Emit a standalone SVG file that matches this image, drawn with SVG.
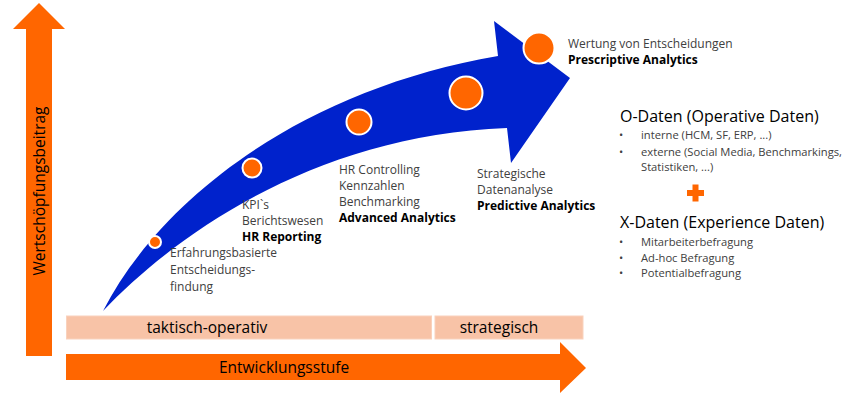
<svg xmlns="http://www.w3.org/2000/svg" width="860" height="397" viewBox="0 0 860 397">
<style>
  .t { font-family: "Open Sans", "Noto Sans", sans-serif; }
  .g { font-size: 12px; fill: #404040; }
  .s { font-size: 11.2px; fill: #404040; }
  .b { font-size: 12px; font-weight: bold; fill: #000; }
  .h { font-size: 16px; fill: #000; }
  .bar { fill: #F8C3A7; stroke: #F9D2BD; stroke-width: 1; }
  .or { fill: #FF6600; }
  .dot { fill: #FF6600; stroke: #fff; stroke-width: 2; }
  .lbl { font-size: 15.5px; fill: #000; }
</style>
<rect width="860" height="397" fill="#fff"/>

<g id="axis-y">
  <polygon class="or" points="26,356 52,356 52,29 65,29 39,3 13,29 26,29"/>
  <text class="t lbl" transform="translate(45,191) rotate(-90)" text-anchor="middle">Wertschöpfungsbeitrag</text>
</g>

<g id="axis-x">
  <polygon class="or" points="66,354 560,354 560,342 586,368 560,393 560,380 66,380"/>
  <text class="t lbl" x="284" y="373" text-anchor="middle">Entwicklungsstufe</text>
</g>

<g id="phase-taktisch">
  <rect class="bar" x="66.5" y="316" width="365" height="23"/>
  <text class="t lbl" x="207" y="333" text-anchor="middle">taktisch-operativ</text>
</g>
<g id="phase-strategisch">
  <rect class="bar" x="435" y="316" width="148" height="23"/>
  <text class="t lbl" x="499" y="333" text-anchor="middle">strategisch</text>
</g>

<g id="connectors">
  <path fill="#0022CC" d="M103,311 C160,200 300,90 498,56 L494,21 L570,78 L511,163 L507,128 C320,135 180,230 103,311 Z"/>
</g>

<g id="stage1">
  <circle class="dot" cx="155" cy="242" r="6"/>
  <text class="t g" x="170" y="257">Erfahrungsbasierte</text>
  <text class="t g" x="170" y="274">Entscheidungs-</text>
  <text class="t g" x="170" y="291">findung</text>
</g>

<g id="stage2">
  <circle class="dot" cx="252" cy="168" r="9.5"/>
  <text class="t g" x="242" y="209">KPI`s</text>
  <text class="t g" x="242" y="225">Berichtswesen</text>
  <text class="t b" x="242" y="241">HR Reporting</text>
</g>

<g id="stage3">
  <circle class="dot" cx="359" cy="122" r="12.5"/>
  <text class="t g" x="339" y="174">HR Controlling</text>
  <text class="t g" x="339" y="190">Kennzahlen</text>
  <text class="t g" x="339" y="206">Benchmarking</text>
  <text class="t b" x="339" y="222">Advanced Analytics</text>
</g>

<g id="stage4">
  <circle class="dot" cx="466" cy="93" r="16.5"/>
  <text class="t g" x="477" y="178">Strategische</text>
  <text class="t g" x="477" y="194">Datenanalyse</text>
  <text class="t b" x="477" y="210">Predictive Analytics</text>
</g>

<g id="stage5">
  <circle class="dot" cx="539" cy="48" r="15.5"/>
  <text class="t g" x="568" y="48">Wertung von Entscheidungen</text>
  <text class="t b" x="568" y="64">Prescriptive Analytics</text>
</g>

<g id="odaten">
  <text class="t h" x="620" y="122">O-Daten (Operative Daten)</text>
  <text class="t s" x="619" y="139">•</text>
  <text class="t s" x="641" y="139">interne (HCM, SF, ERP, ...)</text>
  <text class="t s" x="619" y="156">•</text>
  <text class="t s" x="641" y="156">externe (Social Media, Benchmarkings,</text>
  <text class="t s" x="641" y="171">Statistiken, ...)</text>
</g>

<g id="plus">
  <rect class="or" x="687" y="190" width="17" height="6"/>
  <rect class="or" x="692.5" y="184.5" width="6" height="17"/>
</g>

<g id="xdaten">
  <text class="t h" x="620" y="228">X-Daten (Experience Daten)</text>
  <text class="t s" x="619" y="246">•</text>
  <text class="t s" x="641" y="246">Mitarbeiterbefragung</text>
  <text class="t s" x="619" y="262">•</text>
  <text class="t s" x="641" y="262">Ad-hoc Befragung</text>
  <text class="t s" x="619" y="277">•</text>
  <text class="t s" x="641" y="277">Potentialbefragung</text>
</g>
</svg>
